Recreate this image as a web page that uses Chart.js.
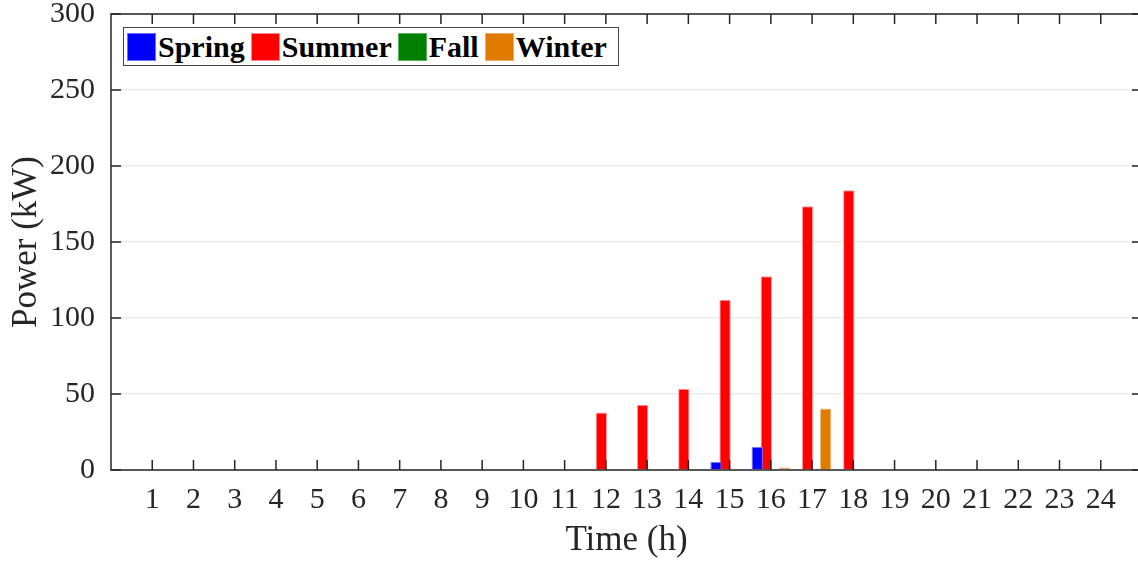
<!DOCTYPE html>
<html>
<head>
<meta charset="utf-8">
<script src="https://cdn.jsdelivr.net/npm/chart.js@4.4.0/dist/chart.umd.min.js"></script>
<style>
  html, body { margin: 0; padding: 0; background: #fff; overflow: hidden; }
  #wrap { position: relative; width: 1138px; height: 564px; overflow: hidden; }
  #legend {
    position: absolute; left: 123px; top: 27px; width: 491px; height: 37px;
    border: 1.5px solid #444; background: #fff;
    display: flex; align-items: center; padding-left: 3px; box-sizing: content-box;
    font-family: 'Liberation Serif', serif; font-weight: bold; font-size: 30px; color: #000;
  }
  #legend .sq { width: 29px; height: 28px; margin-right: 2px; box-sizing: border-box; }
  #legend .lbl { margin-right: 6px; line-height: 30px; }
</style>
</head>
<body>
<div id="wrap">
  <canvas id="chart" width="1142" height="564"></canvas>
  <div id="legend"></div>
</div>
<script>
const hours = [1, 2, 3, 4, 5, 6, 7, 8, 9, 10, 11, 12, 13, 14, 15, 16, 17, 18, 19, 20, 21, 22, 23, 24];
const seasons = ['Spring', 'Summer', 'Fall', 'Winter'];
const colors = ['#0000ff', '#ff0000', '#008000', '#e07b00'];
const edges = ['rgba(120,120,255,0.9)', 'rgba(255,150,150,0.9)', 'rgba(100,180,100,0.9)', 'rgba(240,180,110,0.9)'];

const spring = [0, 0, 0, 0, 0, 0, 0, 0, 0, 0, 0, 0, 0, 0, 5.4, 15.3, 0, 0, 0, 0, 0, 0, 0, 0];
const summer = [0, 0, 0, 0, 0, 0, 0, 0, 0, 0, 0, 37.8, 43, 53.5, 112, 127.5, 173.5, 184, 0, 0, 0, 0, 0, 0];
const fall   = [0, 0, 0, 0, 0, 0, 0, 0, 0, 0, 0, 0, 0, 0, 0, 0, 0, 0, 0, 0, 0, 0, 0, 0];
const winter = [0, 0, 0, 0, 0, 0, 0, 0, 0, 0, 0, 0, 0, 0, 0, 1.6, 40.5, 0, 0, 0, 0, 0, 0, 0];
const values = [spring, summer, fall, winter];

const yTicks = [0, 50, 100, 150, 200, 250, 300];

Chart.defaults.font.family = "'Liberation Serif', 'Times New Roman', serif";
Chart.defaults.color = '#262626';

// MATLAB-like box with inward tick marks
const frame = {
  id: 'frame',
  afterDatasetsDraw(chart) {
    const { ctx, chartArea: a, scales: { x, y } } = chart;
    ctx.save();
    ctx.strokeStyle = '#262626';
    ctx.lineWidth = 1.5;
    ctx.beginPath();
    hours.forEach(h => {
      const px = x.getPixelForValue(h);
      ctx.moveTo(px, a.bottom); ctx.lineTo(px, a.bottom - 10);
      ctx.moveTo(px, a.top); ctx.lineTo(px, a.top + 10);
    });
    yTicks.forEach(v => {
      const py = y.getPixelForValue(v);
      ctx.moveTo(a.left, py); ctx.lineTo(a.left + 10, py);
      ctx.moveTo(a.right, py); ctx.lineTo(a.right - 10, py);
    });
    ctx.stroke();
    ctx.strokeRect(a.left, a.top, a.right - a.left, a.bottom - a.top);
    ctx.restore();
  }
};

const datasets = seasons.map((s, i) => ({
  label: s,
  data: hours.map((h, j) => ({ x: h, y: values[i][j] })),
  backgroundColor: colors[i],
  borderColor: edges[i],
  borderWidth: 1,
  categoryPercentage: 0.88,
  barPercentage: 1.25
}));

new Chart(document.getElementById('chart'), {
  type: 'bar',
  data: { datasets },
  plugins: [frame],
  options: {
    responsive: false,
    animation: false,
    layout: { padding: { top: 14, left: 0, right: 0, bottom: 0 } },
    plugins: { legend: { display: false }, tooltip: { enabled: false } },
    scales: {
      x: {
        type: 'linear',
        min: 0,
        max: 25,
        offset: false,
        grid: { display: false, drawTicks: false },
        border: { display: false },
        ticks: {
          stepSize: 1,
          autoSkip: false,
          maxRotation: 0,
          padding: 12,
          font: { size: 30 },
          callback: v => (hours.includes(v) ? String(v) : '')
        },
        title: {
          display: true,
          text: 'Time (h)',
          font: { size: 35, lineHeight: 1.2 },
          padding: { top: 0, bottom: 2 }
        },
        afterFit: s => { s.height = 94; s.paddingLeft = 0; s.paddingRight = 0; }
      },
      y: {
        min: 0,
        max: 300,
        grid: { color: '#ebebeb', lineWidth: 1.5, drawTicks: false },
        border: { display: false },
        ticks: {
          stepSize: 50,
          padding: 16,
          font: { size: 30 }
        },
        afterBuildTicks: s => { s.ticks = yTicks.map(v => ({ value: v })); },
        title: {
          display: true,
          text: 'Power (kW)',
          font: { size: 35, lineHeight: 1.2 },
          padding: { top: 6, bottom: 0 }
        },
        afterFit: s => { s.width = 111; s.paddingTop = 0; s.paddingBottom = 0; }
      }
    }
  }
});

const legend = document.getElementById('legend');
seasons.forEach((s, i) => {
  const sq = document.createElement('span');
  sq.className = 'sq';
  sq.style.background = colors[i];
  sq.style.border = '1px solid ' + edges[i];
  const lbl = document.createElement('span');
  lbl.className = 'lbl';
  lbl.textContent = s;
  legend.appendChild(sq);
  legend.appendChild(lbl);
});
</script>
</body>
</html>
